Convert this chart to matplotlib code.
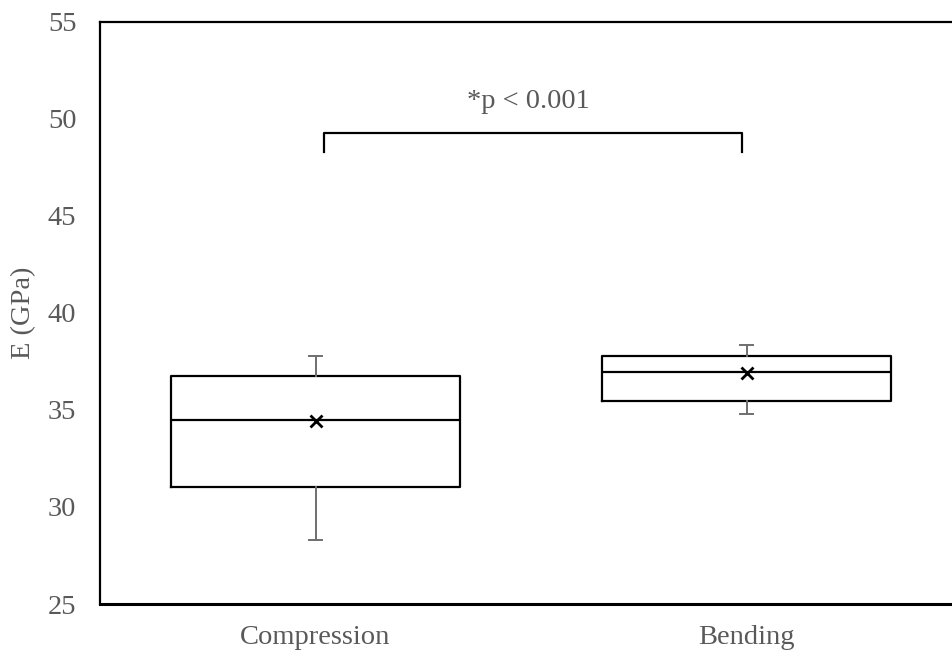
import matplotlib
matplotlib.use("Agg")
import matplotlib.pyplot as plt

plt.rcParams['font.family'] = ['Liberation Serif', 'DejaVu Serif']

groups = ['Compression', 'Bending']
q1 = [31.04, 35.45]
median = [34.47, 36.95]
q3 = [36.76, 37.77]
whislo = [28.30, 34.77]
whishi = [37.79, 38.32]
mean = [34.45, 36.92]

sig_text = '*p < 0.001'
bracket_x = [1.02, 1.99]
bracket_y = [48.26, 49.24]

text_grey = '#595959'
fs = 20.5

fig = plt.figure(figsize=(9.52, 6.54), dpi=100)
ax = fig.add_axes([100 / 952, 50 / 654, 862 / 952, 582.5 / 654])

stats = []
for i, g in enumerate(groups):
    stats.append(dict(label=g, q1=q1[i], med=median[i], q3=q3[i],
                      whislo=whislo[i], whishi=whishi[i], mean=mean[i], fliers=[]))

ax.bxp(stats, positions=[1, 2], widths=0.67, showmeans=True,
       boxprops=dict(color='black', linewidth=1.6),
       medianprops=dict(color='black', linewidth=1.6),
       whiskerprops=dict(color='#6f6f6f', linewidth=1.4),
       capprops=dict(color='#6f6f6f', linewidth=1.4),
       capwidths=0.028,
       meanprops=dict(marker='x', markeredgecolor='black', markersize=8, markeredgewidth=2))

# significance bracket
ax.plot([bracket_x[0], bracket_x[0], bracket_x[1], bracket_x[1]],
        [bracket_y[0], bracket_y[1], bracket_y[1], bracket_y[0]],
        color='black', linewidth=1.6)
ax.text(1.495, 50.9, sig_text, ha='center', va='center',
        fontsize=fs, color=text_grey)

ax.set_xlim(0.5, 2.5)
ax.set_ylim(25, 55)
ax.set_yticks(range(25, 56, 5))
ax.tick_params(axis='both', length=0, labelsize=fs, labelcolor=text_grey)
ax.tick_params(axis='y', pad=17)
ax.tick_params(axis='x', pad=15)
ax.set_ylabel('E (GPa)', fontsize=fs, color=text_grey)
ax.yaxis.set_label_coords(-64 / 862, 0.5)

for side in ['left', 'top', 'right']:
    ax.spines[side].set_linewidth(1.6)
ax.spines['bottom'].set_linewidth(2.2)

fig.savefig('out.png', dpi=100)
